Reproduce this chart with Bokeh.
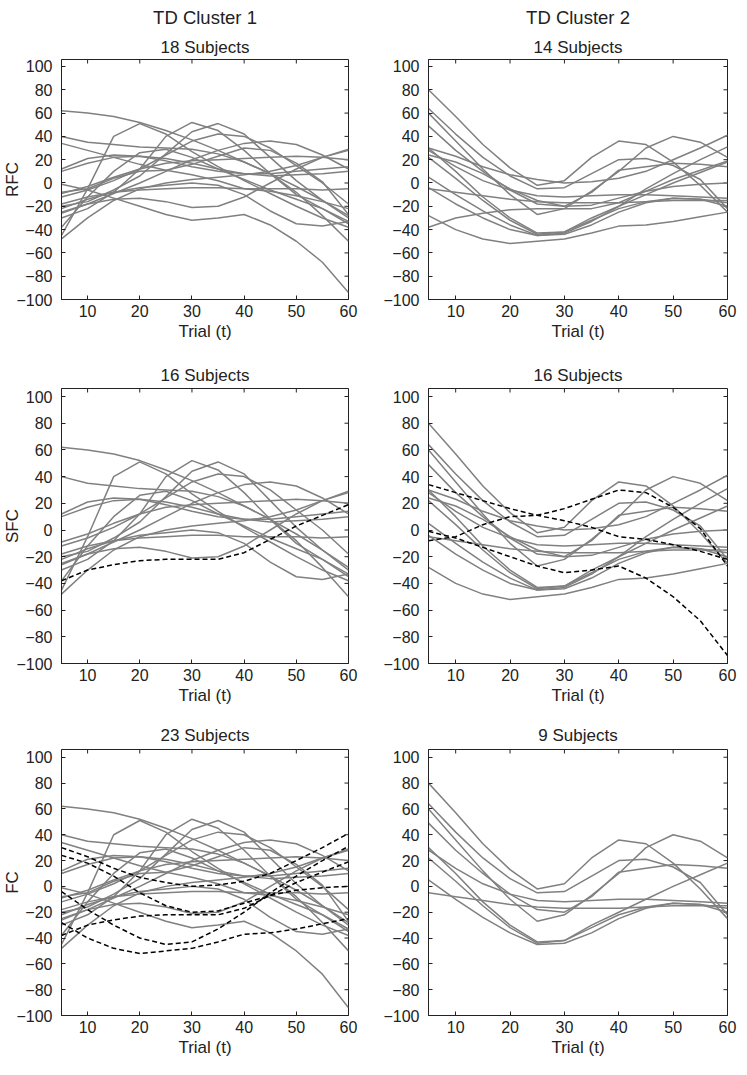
from math import pi
from bokeh.plotting import figure
from bokeh.layouts import column, row
from bokeh.models import Range1d, FixedTicker, Title
from bokeh.embed import file_html
from bokeh.resources import INLINE

# ---------------- data ----------------
T = [5, 10, 15, 20, 25, 30, 35, 40, 45, 50, 55, 60]

X_TICKS = [10, 20, 30, 40, 50, 60]
Y_TICKS = [-100, -80, -60, -40, -20, 0, 20, 40, 60, 80, 100]
Y_TICK_LABELS = ["\u2212100", "\u221280", "\u221260", "\u221240", "\u221220", "0",
                 "20", "40", "60", "80", "100"]

# TD cluster 1 subjects (18)
s01 = [62, 60, 57, 52, 45, 37, 28, 18, 8, -3, -15, -28]
s02 = [40, 35, 33, 31, 30, 29, 25, 18, 8, -8, -28, -50]
s03 = [34, 28, 22, 16, 11, 7, 2, -5, -7, -11, -16, -22]
s04 = [12, 21, 24, 23, 19, 14, 10, 8, 8, 10, 12, 14]
s05 = [10, 17, 22, 23, 21, 17, 12, 8, 6, 7, 8, 10]
s06 = [-8, -5, 4, 10, 11, 16, 23, 30, 28, 17, 1, -27]
s07 = [-1, -6, -13, -20, -27, -32, -30, -27, -36, -50, -68, -94]
s08 = [-9, -3, 5, 12, 17, 19, 20, 21, 22, 23, 22, 20]
s09 = [-12, -6, 2, 12, 24, 36, 42, 40, 30, 15, 0, -18]
s10 = [-18, -12, -8, -6, -5, -4, -4, -5, -5, -5, -6, -5]
s11 = [-20, -16, -6, 6, 25, 44, 51, 42, 22, 2, -15, -30]
s12 = [-22, -14, -8, -4, -2, 0, -2, -10, -24, -35, -37, -33]
s13 = [-25, -18, -9, 0, 10, 20, 28, 34, 36, 33, 24, 12]
s14 = [-26, -18, -14, -13, -16, -21, -20, -12, 0, 12, 22, 29]
s15 = [-30, -22, -8, 12, 40, 52, 45, 28, 8, -10, -22, -33]
s16 = [-38, -12, 10, 26, 29, 22, 12, 3, -6, -14, -22, -35]
s17 = [-45, -5, 40, 51, 42, 27, 14, 2, -9, -20, -30, -38]
s18 = [-48, -30, -15, -5, 0, 3, 5, 7, 10, 15, 22, 28]

# TD cluster 2 subjects (14)
s19 = [80, 57, 33, 13, -2, 2, 22, 36, 33, 18, -2, -25]
s20 = [64, 42, 22, 6, -5, -4, 8, 20, 21, 15, 3, -22]
s21 = [60, 36, 12, -10, -27, -22, -7, 10, 30, 40, 35, 22]
s22 = [49, 28, 10, -6, -18, -20, -8, 11, 14, 17, 16, 14]
s23 = [30, 23, 14, 7, 3, 0, 1, 4, 10, 20, 30, 41]
s24 = [30, 10, -12, -30, -43, -42, -30, -20, -10, 0, 9, 18]
s25 = [28, 14, 2, -6, -11, -12, -11, -10, -10, -11, -12, -13]
s26 = [24, 18, 8, -5, -15, -20, -19, -13, -7, -3, -1, 0]
s27 = [22, 4, -15, -32, -44, -42, -32, -22, -16, -13, -14, -17]
s28 = [5, -10, -24, -36, -45, -44, -36, -25, -17, -13, -14, -20]
s29 = [-4, -18, -30, -40, -45, -43, -33, -20, -5, 8, 20, 31]
s30 = [-5, -8, -11, -14, -16, -17, -17, -17, -16, -15, -15, -15]
s31 = [-28, -40, -48, -52, -50, -48, -43, -37, -36, -33, -29, -25]
s32 = [-38, -30, -26, -23, -22, -22, -22, -17, -7, 3, 11, 19]

TD1 = [s01, s02, s03, s04, s05, s06, s07, s08, s09, s10, s11, s12, s13, s14, s15, s16, s17, s18]
TD2 = [s19, s20, s21, s22, s23, s24, s25, s26, s27, s28, s29, s30, s31, s32]

# cluster memberships for the other measures
SFC1_solid = [s for s in TD1 if s not in (s03, s06, s07)]
SFC1_dash = [s32]
SFC2_solid = [s for s in TD2 if s is not s32]
SFC2_dash = [s03, s06, s07]
FC1_solid = TD1
FC1_dash = [s23, s26, s29, s31, s32]
FC2_solid = [s19, s20, s21, s22, s24, s25, s27, s28, s30]
FC2_dash = []

ROW_NAMES = ["RFC", "SFC", "FC"]
COL_NAMES = ["TD Cluster 1", "TD Cluster 2"]
SUBTITLES = [["18 Subjects", "14 Subjects"], ["16 Subjects", "16 Subjects"], ["23 Subjects", "9 Subjects"]]
X_LABEL = "Trial (t)"

# ---------------- style ----------------
FONT = "Liberation Sans"
TXT = "#222222"
GRAY = "#808080"
AX = "#222222"


def panel(solid, dashed, subtitle, fw, fh, mb_l, mb_r, mb_t, mb_b,
          header=None, ylabel=None, sub_standoff=8):
    p = figure(frame_width=fw, frame_height=fh,
               min_border_left=mb_l, min_border_right=mb_r,
               min_border_top=mb_t, min_border_bottom=mb_b,
               x_range=Range1d(5, 60), y_range=Range1d(-100, 106),
               output_backend="svg", toolbar_location=None, tools="")
    p.xgrid.visible = False
    p.ygrid.visible = False
    p.outline_line_color = AX
    p.outline_line_width = 1
    p.background_fill_color = "white"
    p.border_fill_color = "white"

    p.xaxis.ticker = FixedTicker(ticks=X_TICKS)
    p.yaxis.ticker = FixedTicker(ticks=Y_TICKS)
    p.yaxis.major_label_overrides = {v: lab for v, lab in zip(Y_TICKS, Y_TICK_LABELS)}
    for ax in (p.xaxis[0], p.yaxis[0]):
        ax.major_tick_in = 4
        ax.major_tick_out = 0
        ax.minor_tick_line_color = None
        ax.axis_line_color = AX
        ax.major_tick_line_color = AX
        ax.major_label_text_font = FONT
        ax.major_label_text_font_size = "16px"
        ax.major_label_text_color = TXT
        ax.axis_label_text_font = FONT
        ax.axis_label_text_font_size = "17px"
        ax.axis_label_text_font_style = "normal"
        ax.axis_label_text_color = TXT
    p.xaxis.major_label_standoff = 5
    p.yaxis.major_label_standoff = 9
    p.xaxis.axis_label = X_LABEL
    p.xaxis.axis_label_standoff = 2
    if ylabel is not None:
        p.yaxis.axis_label = ylabel
        p.yaxis.axis_label_standoff = -9

    # inward ticks on the top and right edges of the box
    p.ray(x=X_TICKS, y=106, length=4, angle=-pi / 2, length_units="screen",
          line_color=AX, line_width=1)
    p.ray(x=60, y=Y_TICKS, length=4, angle=pi, length_units="screen",
          line_color=AX, line_width=1)

    for ys in solid:
        p.line(T, ys, line_color=GRAY, line_width=1.5)
    for ys in dashed:
        p.line(T, ys, line_color="black", line_width=1.5, line_dash="5 3")

    p.add_layout(Title(text=subtitle, align="center", text_font=FONT, text_font_size="17px",
                       text_font_style="normal", text_color=TXT, standoff=sub_standoff), "above")
    if header is not None:
        p.add_layout(Title(text=header, align="center", text_font=FONT, text_font_size="18.5px",
                           text_font_style="normal", text_color=TXT, standoff=9), "above")
    return p


LW, RW = 287, 299
L_L, L_R, R_L, R_R = 55, 12, 68, 10

rows_spec = [
    # frame height, top border, bottom border, subtitle standoff
    (240, 57, 60, 6),
    (275, 28, 56, 8),
    (266, 30, 46, 9),
]
members = [
    [(TD1, []), (TD2, [])],
    [(SFC1_solid, SFC1_dash), (SFC2_solid, SFC2_dash)],
    [(FC1_solid, FC1_dash), (FC2_solid, FC2_dash)],
]

rows = []
for r, (fh, mt, mb, sso) in enumerate(rows_spec):
    (ls, ld), (rs, rd) = members[r]
    pl = panel(ls, ld, SUBTITLES[r][0], LW, fh, L_L, L_R, mt, mb,
               header=COL_NAMES[0] if r == 0 else None, ylabel=ROW_NAMES[r], sub_standoff=sso)
    pr = panel(rs, rd, SUBTITLES[r][1], RW, fh, R_L, R_R, mt, mb,
               header=COL_NAMES[1] if r == 0 else None, ylabel=None, sub_standoff=sso)
    rows.append(row(pl, pr))

layout = column(*rows)

with open("out.html", "w") as f:
    f.write(file_html(layout, INLINE))
